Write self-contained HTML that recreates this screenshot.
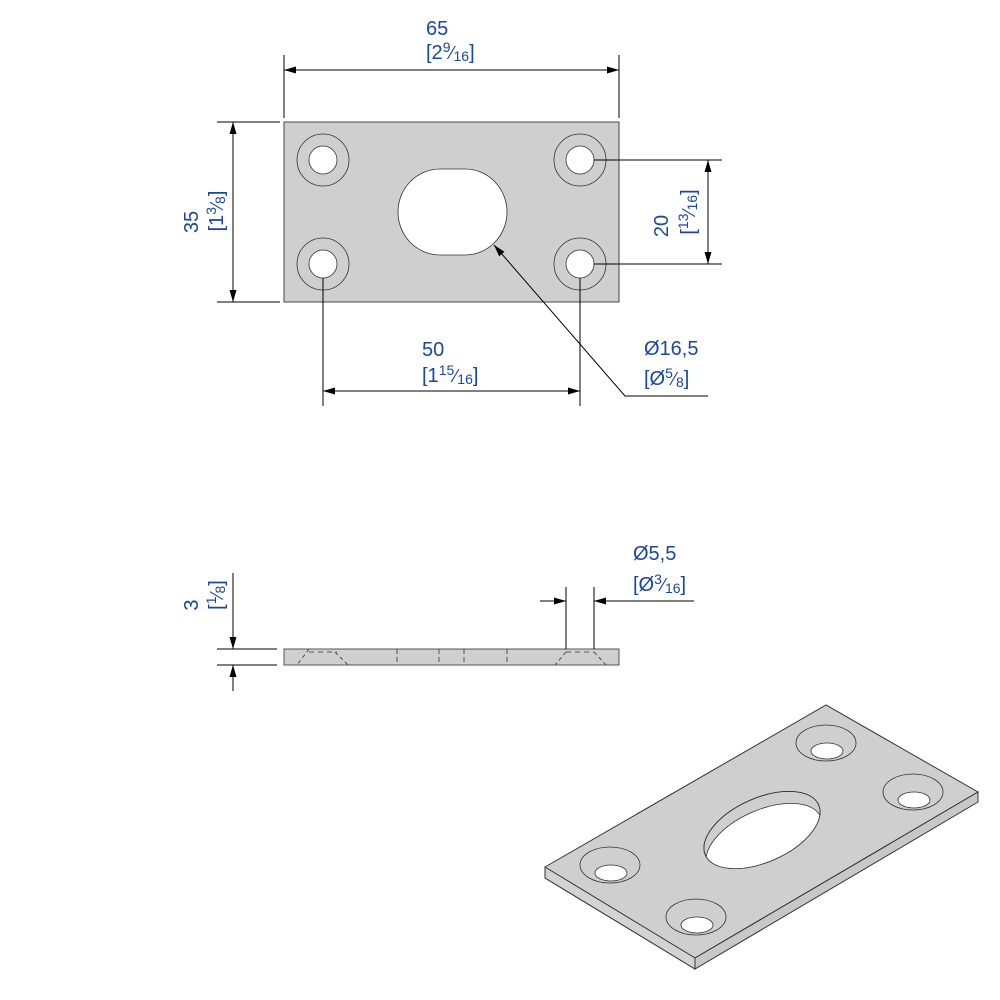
<!DOCTYPE html>
<html><head><style>body{margin:0;background:#fff}svg{display:block}</style></head>
<body>
<svg width="1000" height="1000" viewBox="0 0 1000 1000" xmlns="http://www.w3.org/2000/svg" font-family="Liberation Sans, sans-serif">
<defs>
<marker id="a" viewBox="0 0 12 7" refX="12" refY="3.5" markerWidth="12" markerHeight="7" markerUnits="userSpaceOnUse" orient="auto-start-reverse"><path d="M0,0L12,3.5L0,7z" fill="#000"/></marker>
<clipPath id="slot"><ellipse cx="762" cy="830" rx="62" ry="32" transform="rotate(-24 762 830)"/></clipPath>
</defs>
<g stroke="#000" stroke-width="1" fill="none">
<rect x="284" y="122" width="335" height="180" fill="#cfcfcf" stroke="#444"/>
<g fill="none" stroke="#333" stroke-width="0.8">
<circle cx="323" cy="160" r="26"/><circle cx="580" cy="160" r="26"/><circle cx="323" cy="264" r="26"/><circle cx="580" cy="264" r="26"/>
</g>
<g fill="#fff" stroke="#333" stroke-width="0.8">
<circle cx="323" cy="160" r="14"/><circle cx="580" cy="160" r="14"/><circle cx="323" cy="264" r="14"/><circle cx="580" cy="264" r="14"/>
<path d="M440,169 H465 A42,43 0 0 1 465,255 H440 A42,43 0 0 1 440,169 Z"/>
</g>
<line x1="284" y1="55" x2="284" y2="118"/><line x1="619" y1="55" x2="619" y2="118"/>
<line x1="284" y1="70" x2="619" y2="70" marker-start="url(#a)" marker-end="url(#a)"/>
<line x1="217" y1="122" x2="280" y2="122"/><line x1="217" y1="302" x2="280" y2="302"/>
<line x1="233" y1="122" x2="233" y2="302" marker-start="url(#a)" marker-end="url(#a)"/>
<line x1="594" y1="160" x2="722" y2="160"/><line x1="594" y1="264" x2="722" y2="264"/>
<line x1="708" y1="160" x2="708" y2="264" marker-start="url(#a)" marker-end="url(#a)"/>
<line x1="323" y1="278" x2="323" y2="406"/><line x1="580" y1="278" x2="580" y2="406"/>
<line x1="323" y1="391" x2="580" y2="391" marker-start="url(#a)" marker-end="url(#a)"/>
<polyline points="708,396 625,396 494,245" marker-end="url(#a)"/>
<rect x="284" y="649" width="335" height="16" fill="#cfcfcf" stroke="#555"/>
<g stroke="#333" stroke-width="0.8">
<line x1="309" y1="649" x2="297" y2="665" stroke-dasharray="4,3"/><line x1="309" y1="652" x2="337" y2="652" stroke-dasharray="5,4"/><line x1="335" y1="652" x2="348" y2="665" stroke-dasharray="4,3"/>
<line x1="566" y1="652" x2="555" y2="665" stroke-dasharray="4,3"/><line x1="566" y1="652" x2="594" y2="652" stroke-dasharray="5,4"/><line x1="594" y1="652" x2="606" y2="665" stroke-dasharray="4,3"/>
<line x1="397" y1="649" x2="397" y2="665" stroke-dasharray="5,3"/><line x1="439" y1="649" x2="439" y2="665" stroke-dasharray="5,3"/><line x1="464" y1="649" x2="464" y2="665" stroke-dasharray="5,3"/><line x1="507" y1="649" x2="507" y2="665" stroke-dasharray="5,3"/>
</g>
<line x1="217" y1="649" x2="277" y2="649"/><line x1="217" y1="665" x2="277" y2="665"/>
<line x1="233" y1="573" x2="233" y2="649" marker-end="url(#a)"/>
<line x1="233" y1="691" x2="233" y2="665" marker-end="url(#a)"/>
<line x1="566" y1="587" x2="566" y2="649"/><line x1="594" y1="587" x2="594" y2="649"/>
<line x1="540" y1="601" x2="566" y2="601" marker-end="url(#a)"/>
<line x1="694" y1="601" x2="594" y2="601" marker-end="url(#a)"/>
<polygon points="545,867 826,705 978,792 695,958 695,969 545,878" fill="#cfcfcf" stroke="#333"/>
<polygon points="545,867 695,958 695,969 545,878" fill="#d3d3d3" stroke="#333"/>
<polygon points="695,958 978,792 978,802 695,969" fill="#c8c8c8" stroke="#333"/>
<g stroke="#333" stroke-width="0.8">
<ellipse cx="826" cy="743" rx="30" ry="18" fill="#cfcfcf"/><ellipse cx="827" cy="751" rx="16" ry="8" fill="#fff"/>
<ellipse cx="913" cy="792" rx="30" ry="18" fill="#cfcfcf"/><ellipse cx="914" cy="800" rx="16" ry="8" fill="#fff"/>
<ellipse cx="610" cy="865" rx="30" ry="18" fill="#cfcfcf"/><ellipse cx="611" cy="873" rx="16" ry="8" fill="#fff"/>
<ellipse cx="696" cy="917" rx="30" ry="18" fill="#cfcfcf"/><ellipse cx="697" cy="925" rx="16" ry="8" fill="#fff"/>
<ellipse cx="762" cy="830" rx="62" ry="32" transform="rotate(-24 762 830)" fill="#cfcfcf"/>
<g clip-path="url(#slot)"><ellipse cx="764" cy="842" rx="62" ry="32" transform="rotate(-24 764 842)" fill="#fff"/></g>
<ellipse cx="762" cy="830" rx="62" ry="32" transform="rotate(-24 762 830)" fill="none"/>
</g>
</g>
<g fill="#1a47a0" font-size="20">
<text x="426" y="35">65</text>
<text x="426" y="59">[2<tspan font-size="14" dy="-7">9</tspan><tspan font-size="18" dy="7">⁄</tspan><tspan font-size="14" dy="2">16</tspan><tspan dy="-2">]</tspan></text>
<text x="422" y="356">50</text>
<text x="422" y="382">[1<tspan font-size="14" dy="-7">15</tspan><tspan font-size="18" dy="7">⁄</tspan><tspan font-size="14" dy="2">16</tspan><tspan dy="-2">]</tspan></text>
<text x="644" y="355">Ø16,5</text>
<text x="644" y="385">[Ø<tspan font-size="14" dy="-7">5</tspan><tspan font-size="18" dy="7">⁄</tspan><tspan font-size="14" dy="2">8</tspan><tspan dy="-2">]</tspan></text>
<text x="633" y="560">Ø5,5</text>
<text x="633" y="591">[Ø<tspan font-size="14" dy="-7">3</tspan><tspan font-size="18" dy="7">⁄</tspan><tspan font-size="14" dy="2">16</tspan><tspan dy="-2">]</tspan></text>
<g transform="translate(198,222) rotate(-90)"><text x="0" y="0" text-anchor="middle">35</text></g>
<g transform="translate(223,211) rotate(-90)"><text x="0" y="0" text-anchor="middle">[1<tspan font-size="14" dy="-7">3</tspan><tspan font-size="18" dy="7">⁄</tspan><tspan font-size="14" dy="2">8</tspan><tspan dy="-2">]</tspan></text></g>
<g transform="translate(668,226) rotate(-90)"><text x="0" y="0" text-anchor="middle">20</text></g>
<g transform="translate(695,212) rotate(-90)"><text x="0" y="0" text-anchor="middle">[<tspan font-size="14" dy="-7">13</tspan><tspan font-size="18" dy="7">⁄</tspan><tspan font-size="14" dy="2">16</tspan><tspan dy="-2">]</tspan></text></g>
<g transform="translate(198,605) rotate(-90)"><text x="0" y="0" text-anchor="middle">3</text></g>
<g transform="translate(223,595) rotate(-90)"><text x="0" y="0" text-anchor="middle">[<tspan font-size="14" dy="-7">1</tspan><tspan font-size="18" dy="7">⁄</tspan><tspan font-size="14" dy="2">8</tspan><tspan dy="-2">]</tspan></text></g>
</g>
</svg>
</body></html>
